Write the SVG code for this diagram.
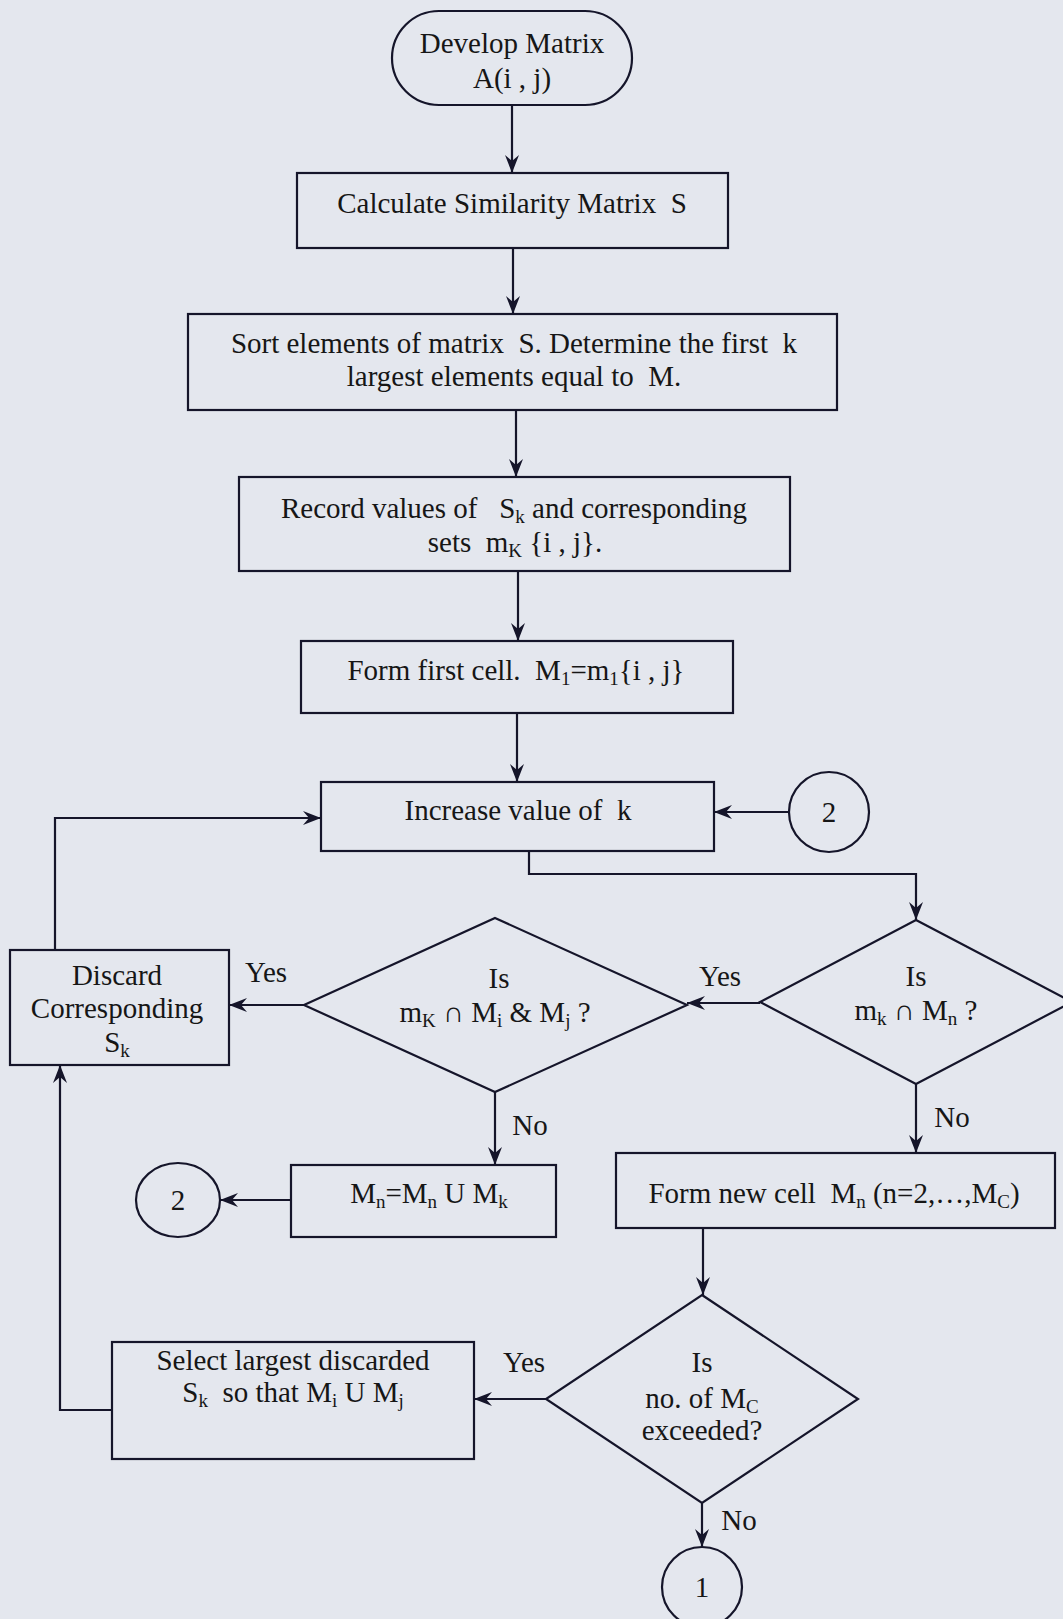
<svg xmlns="http://www.w3.org/2000/svg" width="1063" height="1619" viewBox="0 0 1063 1619">
<style>
.bg{fill:#e4e7ee}
.box{fill:none;stroke:#15152a;stroke-width:2.2}
.ln{fill:none;stroke:#15152a;stroke-width:2.2}
.t{font-family:"Liberation Serif","Times New Roman",serif;font-size:29px;fill:#161616;text-anchor:middle;white-space:pre}
.s{font-size:19px}
</style>
<defs>
<marker id="ah" viewBox="0 0 18 14" refX="18" refY="7" markerWidth="18" markerHeight="14" orient="auto" markerUnits="userSpaceOnUse">
<path d="M0,0 L18,7 L0,14 L6,7 Z" fill="#15152a"/>
</marker>
</defs>
<rect class="bg" x="0" y="0" width="1063" height="1619"/>

<g id="connectors">
<path class="ln" d="M512,105 V173" marker-end="url(#ah)"/>
<path class="ln" d="M513,248 V314" marker-end="url(#ah)"/>
<path class="ln" d="M516,410 V477" marker-end="url(#ah)"/>
<path class="ln" d="M518,571 V641" marker-end="url(#ah)"/>
<path class="ln" d="M517,713 V782" marker-end="url(#ah)"/>
<path class="ln" d="M789,812 H714" marker-end="url(#ah)"/>
<path class="ln" d="M529,851 V874 H916 V920" marker-end="url(#ah)"/>
<path class="ln" d="M760,1003 H687" marker-end="url(#ah)"/>
<path class="ln" d="M304,1005 H229" marker-end="url(#ah)"/>
<path class="ln" d="M495,1092 V1165" marker-end="url(#ah)"/>
<path class="ln" d="M291,1200 H220" marker-end="url(#ah)"/>
<path class="ln" d="M916,1084 V1153" marker-end="url(#ah)"/>
<path class="ln" d="M703,1228 V1295" marker-end="url(#ah)"/>
<path class="ln" d="M546,1399 H474" marker-end="url(#ah)"/>
<path class="ln" d="M702,1503 V1547" marker-end="url(#ah)"/>
<path class="ln" d="M112,1410 H60 V1065" marker-end="url(#ah)"/>
<path class="ln" d="M55,950 V818 H321" marker-end="url(#ah)"/>
<text class="t" x="266" y="982">Yes</text>
<text class="t" x="720" y="986">Yes</text>
<text class="t" x="530" y="1135">No</text>
<text class="t" x="952" y="1127">No</text>
<text class="t" x="524" y="1372">Yes</text>
<text class="t" x="739" y="1530">No</text>
</g>

<g id="n-start">
<rect class="box" x="392" y="11" width="240" height="94" rx="47" ry="47"/>
<text class="t" x="512" y="53">Develop Matrix</text>
<text class="t" x="512" y="88">A(i , j)</text>
</g>

<g id="n-similarity">
<rect class="box" x="297" y="173" width="431" height="75"/>
<text class="t" x="512" y="213">Calculate Similarity Matrix  S</text>
</g>

<g id="n-sort">
<rect class="box" x="188" y="314" width="649" height="96"/>
<text class="t" x="514" y="353">Sort elements of matrix  S. Determine the first  k</text>
<text class="t" x="514" y="386">largest elements equal to  M.</text>
</g>

<g id="n-record">
<rect class="box" x="239" y="477" width="551" height="94"/>
<text class="t" x="514" y="518">Record values of   S<tspan class="s" dy="5">k</tspan><tspan dy="-5"> and corresponding</tspan></text>
<text class="t" x="515" y="552">sets  m<tspan class="s" dy="5">K</tspan><tspan dy="-5"> {i , j}.</tspan></text>
</g>

<g id="n-firstcell">
<rect class="box" x="301" y="641" width="432" height="72"/>
<text class="t" x="516" y="680">Form first cell.  M<tspan class="s" dy="5">1</tspan><tspan dy="-5">=m</tspan><tspan class="s" dy="5">1</tspan><tspan dy="-5">{i , j}</tspan></text>
</g>

<g id="n-increase">
<rect class="box" x="321" y="782" width="393" height="69"/>
<text class="t" x="518" y="820">Increase value of  k</text>
</g>

<g id="n-conn2-right">
<circle class="box" cx="829" cy="812" r="40"/>
<text class="t" x="829" y="822">2</text>
</g>

<g id="n-dec-mn">
<polygon class="box" points="916,920 1072,1002 916,1084 760,1002"/>
<text class="t" x="916" y="986">Is</text>
<text class="t" x="916" y="1020">m<tspan class="s" dy="5">k</tspan><tspan dy="-5"> ∩ M</tspan><tspan class="s" dy="5">n</tspan><tspan dy="-5"> ?</tspan></text>
</g>

<g id="n-dec-mimj">
<polygon class="box" points="495,918 687,1005 495,1092 304,1005"/>
<text class="t" x="499" y="988">Is</text>
<text class="t" x="495" y="1022">m<tspan class="s" dy="5">K</tspan><tspan dy="-5"> ∩ M</tspan><tspan class="s" dy="5">i</tspan><tspan dy="-5"> &amp; M</tspan><tspan class="s" dy="5">j</tspan><tspan dy="-5"> ?</tspan></text>
</g>

<g id="n-discard">
<rect class="box" x="10" y="950" width="219" height="115"/>
<text class="t" x="117" y="985">Discard</text>
<text class="t" x="117" y="1018">Corresponding</text>
<text class="t" x="117" y="1052">S<tspan class="s" dy="5">k</tspan></text>
</g>

<g id="n-merge">
<rect class="box" x="291" y="1165" width="265" height="72"/>
<text class="t" x="429" y="1203">M<tspan class="s" dy="5">n</tspan><tspan dy="-5">=M</tspan><tspan class="s" dy="5">n</tspan><tspan dy="-5"> U M</tspan><tspan class="s" dy="5">k</tspan></text>
</g>

<g id="n-conn2-left">
<ellipse class="box" cx="178" cy="1200" rx="42" ry="37"/>
<text class="t" x="178" y="1210">2</text>
</g>

<g id="n-newcell">
<rect class="box" x="616" y="1153" width="439" height="75"/>
<text class="t" x="834" y="1203">Form new cell  M<tspan class="s" dy="5">n</tspan><tspan dy="-5"> (n=2,…,M</tspan><tspan class="s" dy="5">C</tspan><tspan dy="-5">)</tspan></text>
</g>

<g id="n-dec-mc">
<polygon class="box" points="702,1295 858,1399 702,1503 546,1399"/>
<text class="t" x="702" y="1372">Is</text>
<text class="t" x="702" y="1408">no. of M<tspan class="s" dy="5">C</tspan></text>
<text class="t" x="702" y="1440">exceeded?</text>
</g>

<g id="n-select">
<rect class="box" x="112" y="1342" width="362" height="117"/>
<text class="t" x="293" y="1370">Select largest discarded</text>
<text class="t" x="293" y="1402">S<tspan class="s" dy="5">k</tspan><tspan dy="-5">  so that M</tspan><tspan class="s" dy="5">i</tspan><tspan dy="-5"> U M</tspan><tspan class="s" dy="5">j</tspan></text>
</g>

<g id="n-conn1">
<circle class="box" cx="702" cy="1587" r="40"/>
<text class="t" x="702" y="1597">1</text>
</g>
</svg>
